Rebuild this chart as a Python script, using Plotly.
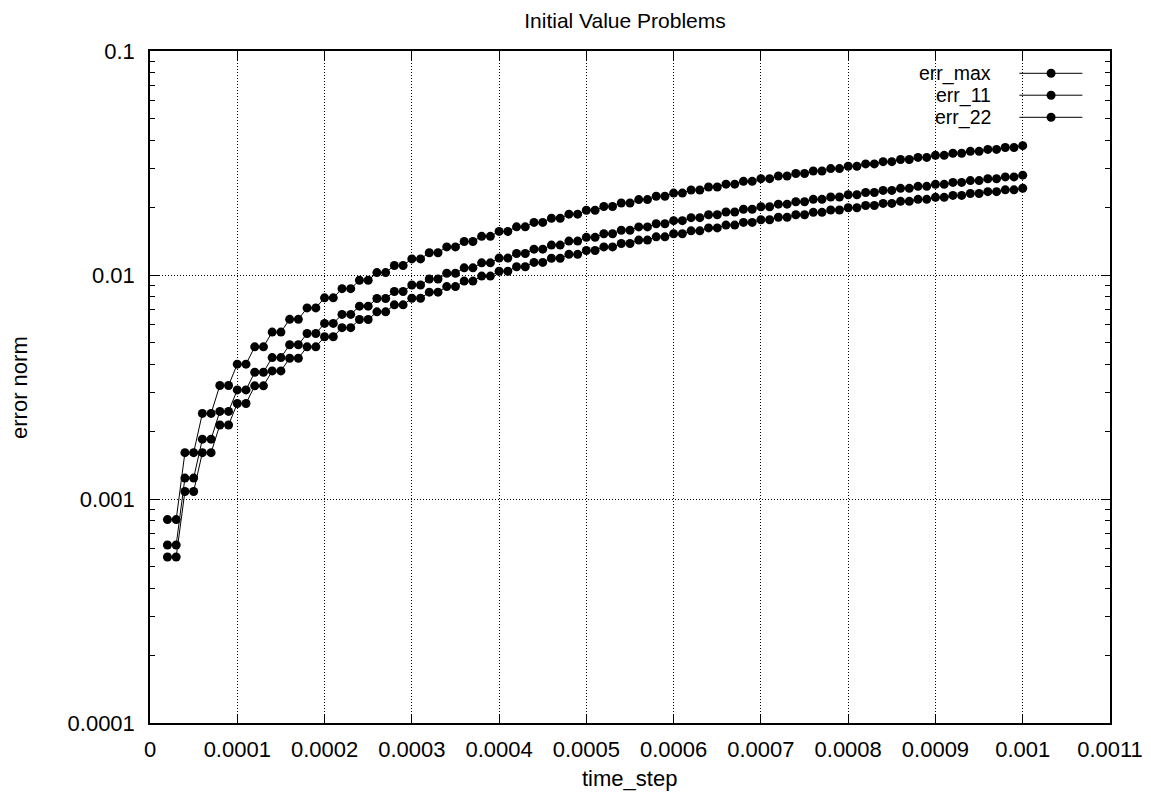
import plotly.graph_objects as go

# ---------------- data ----------------
time_step = [
    0.00002, 0.00003, 0.00004, 0.00005, 0.00006, 0.00007, 0.00008, 0.00009, 0.00010, 0.00011,
    0.00012, 0.00013, 0.00014, 0.00015, 0.00016, 0.00017, 0.00018, 0.00019, 0.00020, 0.00021,
    0.00022, 0.00023, 0.00024, 0.00025, 0.00026, 0.00027, 0.00028, 0.00029, 0.00030, 0.00031,
    0.00032, 0.00033, 0.00034, 0.00035, 0.00036, 0.00037, 0.00038, 0.00039, 0.00040, 0.00041,
    0.00042, 0.00043, 0.00044, 0.00045, 0.00046, 0.00047, 0.00048, 0.00049, 0.00050, 0.00051,
    0.00052, 0.00053, 0.00054, 0.00055, 0.00056, 0.00057, 0.00058, 0.00059, 0.00060, 0.00061,
    0.00062, 0.00063, 0.00064, 0.00065, 0.00066, 0.00067, 0.00068, 0.00069, 0.00070, 0.00071,
    0.00072, 0.00073, 0.00074, 0.00075, 0.00076, 0.00077, 0.00078, 0.00079, 0.00080, 0.00081,
    0.00082, 0.00083, 0.00084, 0.00085, 0.00086, 0.00087, 0.00088, 0.00089, 0.00090, 0.00091,
    0.00092, 0.00093, 0.00094, 0.00095, 0.00096, 0.00097, 0.00098, 0.00099, 0.00100,
]

err_max = [
    0.000809, 0.000809, 0.00161, 0.00161, 0.00241, 0.00241, 0.00321, 0.00321, 0.00400, 0.00400,
    0.00478, 0.00478, 0.00556, 0.00556, 0.00634, 0.00634, 0.00713, 0.00713, 0.00791, 0.00791,
    0.00869, 0.00869, 0.00947, 0.00947, 0.01025, 0.01025, 0.01103, 0.01103, 0.01180, 0.01180,
    0.01257, 0.01257, 0.01335, 0.01335, 0.01411, 0.01411, 0.01488, 0.01488, 0.01565, 0.01565,
    0.01641, 0.01641, 0.01717, 0.01717, 0.01793, 0.01793, 0.01869, 0.01869, 0.01945, 0.01945,
    0.02021, 0.02021, 0.02096, 0.02096, 0.02171, 0.02171, 0.02246, 0.02246, 0.02321, 0.02321,
    0.02395, 0.02395, 0.02470, 0.02470, 0.02544, 0.02544, 0.02618, 0.02618, 0.02692, 0.02692,
    0.02766, 0.02766, 0.02840, 0.02840, 0.02913, 0.02913, 0.02986, 0.02986, 0.03059, 0.03059,
    0.03132, 0.03132, 0.03205, 0.03205, 0.03277, 0.03277, 0.03350, 0.03350, 0.03422, 0.03422,
    0.03494, 0.03494, 0.03566, 0.03566, 0.03637, 0.03637, 0.03709, 0.03709, 0.03780,
]

err_11 = [
    0.000623, 0.000623, 0.00124, 0.00124, 0.00185, 0.00185, 0.00246, 0.00246, 0.00307, 0.00307,
    0.00368, 0.00368, 0.00428, 0.00428, 0.00488, 0.00488, 0.00548, 0.00548, 0.00608, 0.00608,
    0.00667, 0.00667, 0.00726, 0.00726, 0.00785, 0.00785, 0.00844, 0.00844, 0.00902, 0.00902,
    0.00960, 0.00960, 0.01018, 0.01018, 0.01076, 0.01076, 0.01133, 0.01133, 0.01190, 0.01190,
    0.01247, 0.01247, 0.01304, 0.01304, 0.01360, 0.01360, 0.01417, 0.01417, 0.01473, 0.01473,
    0.01528, 0.01528, 0.01584, 0.01584, 0.01639, 0.01639, 0.01694, 0.01694, 0.01748, 0.01748,
    0.01803, 0.01803, 0.01857, 0.01857, 0.01911, 0.01911, 0.01965, 0.01965, 0.02018, 0.02018,
    0.02071, 0.02071, 0.02124, 0.02124, 0.02177, 0.02177, 0.02229, 0.02229, 0.02282, 0.02282,
    0.02334, 0.02334, 0.02385, 0.02385, 0.02437, 0.02437, 0.02488, 0.02488, 0.02539, 0.02539,
    0.02590, 0.02590, 0.02640, 0.02640, 0.02690, 0.02690, 0.02740, 0.02740, 0.02790,
]

err_22 = [
    0.000551, 0.000551, 0.00108, 0.00108, 0.00161, 0.00161, 0.00214, 0.00214, 0.00267, 0.00267,
    0.00320, 0.00320, 0.00373, 0.00373, 0.00425, 0.00425, 0.00478, 0.00478, 0.00530, 0.00530,
    0.00582, 0.00582, 0.00633, 0.00633, 0.00685, 0.00685, 0.00736, 0.00736, 0.00787, 0.00787,
    0.00838, 0.00838, 0.00888, 0.00888, 0.00939, 0.00939, 0.00989, 0.00989, 0.01039, 0.01039,
    0.01089, 0.01089, 0.01138, 0.01138, 0.01188, 0.01188, 0.01237, 0.01237, 0.01286, 0.01286,
    0.01335, 0.01335, 0.01383, 0.01383, 0.01432, 0.01432, 0.01480, 0.01480, 0.01528, 0.01528,
    0.01575, 0.01575, 0.01623, 0.01623, 0.01670, 0.01670, 0.01717, 0.01717, 0.01764, 0.01764,
    0.01811, 0.01811, 0.01858, 0.01858, 0.01904, 0.01904, 0.01950, 0.01950, 0.01996, 0.01996,
    0.02042, 0.02042, 0.02087, 0.02087, 0.02132, 0.02132, 0.02177, 0.02177, 0.02222, 0.02222,
    0.02267, 0.02267, 0.02311, 0.02311, 0.02356, 0.02356, 0.02400, 0.02400, 0.02440,
]

series_names = ["err_max", "err_11", "err_22"]

x_tickvals = [0, 0.0001, 0.0002, 0.0003, 0.0004, 0.0005, 0.0006, 0.0007, 0.0008, 0.0009, 0.001, 0.0011]
x_ticktext = ["0", "0.0001", "0.0002", "0.0003", "0.0004", "0.0005", "0.0006", "0.0007",
              "0.0008", "0.0009", "0.001", "0.0011"]
y_tickvals = [0.0001, 0.001, 0.01, 0.1]
y_ticktext = ["0.0001", "0.001", "0.01", "0.1"]

# ---------------- layout geometry ----------------
# page pixels of the target; the page body adds an 8px offset
OFF = 8
W, H = 1151 - OFF, 795 - OFF
PL, PR, PT, PB = 150 - OFF, 1109.6 - OFF, 51 - OFF, 723 - OFF
FONT = "Liberation Sans, Arial, Helvetica, sans-serif"
FS = 22
TITLE_FS = 21
LEG_FS = 19.5


def px(xpage):
    return (xpage - OFF - PL) / (PR - PL)


def py(ypage):
    return (PB - (ypage - OFF)) / (PB - PT)


fig = go.Figure()
for name, vals in zip(series_names, [err_max, err_11, err_22]):
    fig.add_trace(go.Scatter(
        x=time_step, y=vals, name=name, mode="lines+markers",
        line=dict(color="black", width=1),
        marker=dict(color="black", size=9, line=dict(width=0)),
        showlegend=False,
    ))

shapes = []
annotations = []
# key background box (hides grid under the key, like gnuplot)
shapes.append(dict(type="rect", xref="paper", yref="paper",
                   x0=px(900), x1=px(1096), y0=py(129), y1=py(52),
                   fillcolor="white", line=dict(width=0), layer="between"))
legend_rows = [73.3, 95.2, 117.3]
for name, yr in zip(series_names, legend_rows):
    annotations.append(dict(text=name, xref="paper", yref="paper", x=px(993), y=py(yr),
                            xanchor="right", yanchor="middle", showarrow=False,
                            font=dict(family=FONT, size=LEG_FS, color="black")))
    shapes.append(dict(type="line", xref="paper", yref="paper",
                       x0=px(1019), x1=px(1082), y0=py(yr), y1=py(yr),
                       line=dict(color="black", width=1)))
    shapes.append(dict(type="circle", xref="paper", yref="paper",
                       xsizemode="pixel", ysizemode="pixel",
                       xanchor=px(1050.7), yanchor=py(yr),
                       x0=-4.5, x1=4.5, y0=-4.5, y1=4.5,
                       fillcolor="black", line=dict(width=0)))

# axis titles
annotations.append(dict(text="time_step", xref="paper", yref="paper", x=px(629), y=py(778),
                        xanchor="center", yanchor="middle", showarrow=False,
                        font=dict(family=FONT, size=FS, color="black")))
annotations.append(dict(text="error norm", xref="paper", yref="paper", x=px(19), y=0.5,
                        xanchor="center", yanchor="middle", showarrow=False, textangle=-90,
                        font=dict(family=FONT, size=FS, color="black")))

fig.update_layout(
    width=W, height=H,
    margin=dict(l=PL, r=W - PR, t=PT, b=H - PB, autoexpand=False),
    paper_bgcolor="white", plot_bgcolor="white",
    font=dict(family=FONT, size=FS, color="black"),
    title=dict(text="Initial Value Problems", x=(625 - OFF) / W, xref="container", xanchor="center",
               y=1 - 12.5 / H, yref="container", yanchor="middle", pad=dict(t=0, b=0),
               font=dict(family=FONT, size=TITLE_FS, color="black")),
    shapes=shapes, annotations=annotations,
    showlegend=False,
)
fig.update_xaxes(
    range=[0, 0.0011], tickmode="array", tickvals=x_tickvals, ticktext=x_ticktext,
    showline=True, linecolor="black", linewidth=1.5, mirror="ticks",
    ticks="inside", ticklen=9, tickcolor="black", tickwidth=1,
    showgrid=True, gridcolor="black", gridwidth=1, griddash="1px,2px",
    zeroline=False, ticklabelstandoff=6,
    tickfont=dict(family=FONT, size=FS, color="black"),
)
fig.update_yaxes(
    type="log", range=[-4, -1], tickmode="array", tickvals=y_tickvals, ticktext=y_ticktext,
    showline=True, linecolor="black", linewidth=1.5, mirror="ticks",
    ticks="inside", ticklen=9, tickcolor="black", tickwidth=1,
    minor=dict(ticks="inside", ticklen=5, tickcolor="black", tickwidth=1, dtick="D1", showgrid=False),
    showgrid=True, gridcolor="black", gridwidth=1, griddash="1px,2px",
    zeroline=False, ticklabelstandoff=9,
    tickfont=dict(family=FONT, size=FS, color="black"),
)

fig.write_html("out.html")
